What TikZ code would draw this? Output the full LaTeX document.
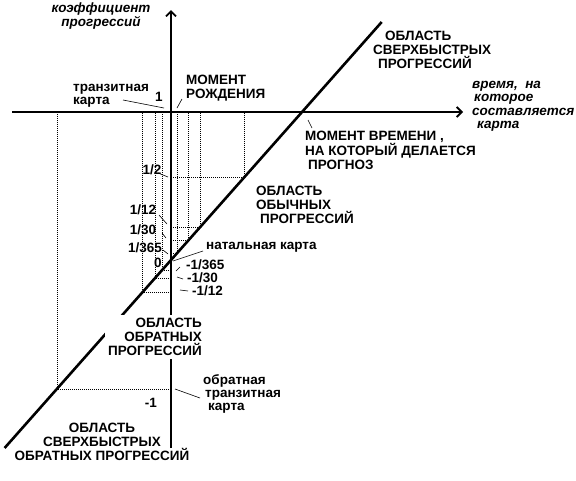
\documentclass[tikz,border=0pt]{standalone}
\usepackage{fontspec}
\setmainfont{Liberation Sans}
\usetikzlibrary{arrows.meta}
\def\levelguide(#1){\draw[guide] (171,#1) -- ({302-(#1-112)*0.885},#1) -- ({302-(#1-112)*0.885},112);}

\begin{document}
\begin{tikzpicture}[x=1pt,y=-1pt,
	caps/.style={font=\fontsize{13.5}{14}\selectfont\bfseries, inner sep=0pt, align=left},
	slant/.style={font=\fontsize{13.5}{13.5}\selectfont\bfseries\itshape, inner sep=0pt, align=left},
	small/.style={font=\fontsize{13.5}{13}\selectfont\bfseries, inner sep=0pt, align=left},
	guide/.style={line width=0.6pt, dash pattern=on 1pt off 1pt},
	axis/.style={line width=1.8pt, -{Straight Barb[length=5pt,width=10pt]}},
	leader/.style={line width=0.6pt}]
			%%%%% START %%%%%
			\useasboundingbox (0,0) rectangle (576,480);
			
			\levelguide(177)
			\levelguide(227)
			\levelguide(240)
			\levelguide(253)
			\levelguide(270)
			\levelguide(278)
			\levelguide(292)
			\levelguide(389)
			
			\draw[axis] (171,448) -- (171,10);
			\draw[axis] (12,112) -- (463,112);
			\draw[line width=2.6pt] (4.6,448) -- (381.7,22);
			
			\node[slant, align=center, anchor=north] (coef) at (101,3) {коэффициент\\прогрессий};
			\node[slant, anchor=north west] (time) at (472,81) {время,\ \ на\\\hspace*{2pt}которое\\составляется\\\hspace*{5pt}карта};
			
			\node[small, anchor=north west] (transit) at (73,84) {транзитная\\карта};
			\node[small] (one) at (159,97) {1};
			\draw[leader] (123,100) -- (164,108);
			
			\node[caps, anchor=north west] (birth) at (186,75) {МОМЕНТ\\РОЖДЕНИЯ};
			\draw[leader] (177,108) -- (182,99);
			
			\node[caps, anchor=north west] (fast) at (373,31) {\hspace*{12pt}ОБЛАСТЬ\\СВЕРХБЫСТРЫХ\\\hspace*{5pt}ПРОГРЕССИЙ};
			
			\node[caps, anchor=north west] (forecast) at (305,131) {МОМЕНТ ВРЕМЕНИ ,\\НА КОТОРЫЙ ДЕЛАЕТСЯ\\\hspace*{3pt}ПРОГНОЗ};
			\draw[leader] (308,120) -- (312,128);
			
			\node[caps, anchor=north west] (usual) at (256,186) {ОБЛАСТЬ\\ОБЫЧНЫХ\\\hspace*{4pt}ПРОГРЕССИЙ};
			
			\node[small] (half) at (152,170) {1/2};
			\draw[leader] (158,173) -- (168,177);
			\node[small] (month) at (143,210) {1/12};
			\draw[leader] (159,215) -- (167,224);
			\node[small] (day) at (143,230) {1/30};
			\draw[leader] (162,233) -- (166,238);
			\node[small] (year) at (145,248) {1/365};
			\draw[leader] (163,250) -- (168,254);
			\node[small] (zero) at (158,263) {0};
			
			\node[small, anchor=west] (natal) at (206,247) {натальная карта};
			\draw[leader] (203,251) -- (173,261);
			\node[small, anchor=west] (myear) at (186,265) {-1/365};
			\draw[leader] (180,267) -- (176,271);
			\node[small, anchor=west] (mday) at (187,278) {-1/30};
			\draw[leader] (177,277) -- (183,279);
			\node[small, anchor=west] (mmonth) at (192,291) {-1/12};
			\draw[leader] (180,290) -- (188,291);
			
			\node[caps, align=right, anchor=north east, fill=white, inner sep=3pt] (inverse) at (205,315) {ОБЛАСТЬ\\ОБРАТНЫХ\\ПРОГРЕССИЙ};
			
			\node[small] (mone) at (151,403) {-1};
			\node[small, anchor=north west] (invtransit) at (203,374) {обратная\\\hspace*{2pt}транзитная\\\hspace*{5pt}карта};
			\draw[leader] (175,389) -- (200,398);
			
			\node[caps, align=center, anchor=north] (fastinv) at (102,423) {ОБЛАСТЬ\\СВЕРХБЫСТРЫХ\\ОБРАТНЫХ ПРОГРЕССИЙ};
			
			%%%%% END %%%%%
\end{tikzpicture}
\end{document}
